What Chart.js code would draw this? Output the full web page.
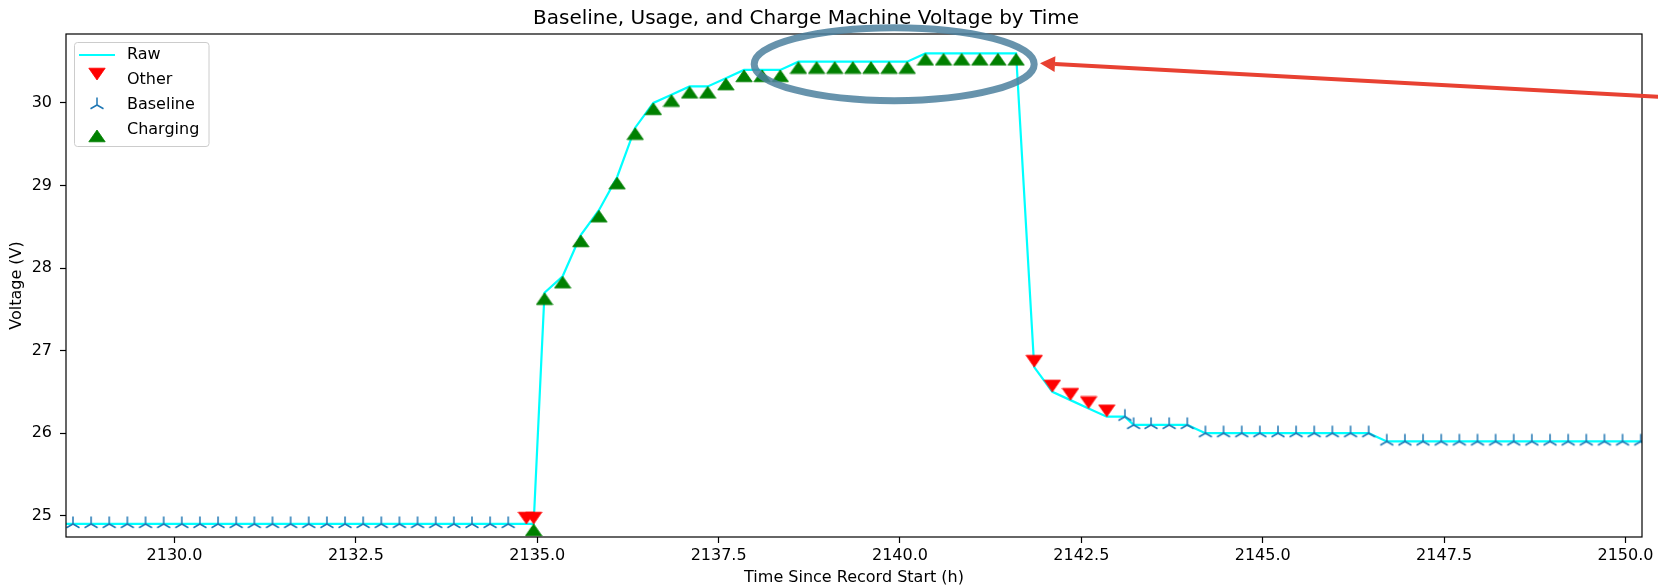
<!DOCTYPE html>
<html>
<head>
<meta charset="utf-8">
<title>Machine Voltage by Time</title>
<script src="https://cdn.jsdelivr.net/npm/chart.js@4.4.0/dist/chart.umd.min.js"></script>
<style>
  html, body { margin: 0; padding: 0; background: #fff; overflow: hidden; }
  #wrap { width: 1658px; height: 587px; position: relative; }
</style>
</head>
<body>
<div id="wrap"><canvas id="voltageChart"></canvas></div>
<script>
// --- values (time in h since record start, voltage in V) ---
const baselineTime = [
    2128.35, 2128.6, 2128.85, 2129.1, 2129.35, 2129.6, 2129.85, 2130.1, 2130.35, 2130.6,
    2130.85, 2131.1, 2131.35, 2131.6, 2131.85, 2132.1, 2132.35, 2132.6, 2132.85, 2133.1,
    2133.35, 2133.6, 2133.85, 2134.1, 2134.35, 2134.6,
    2143.1, 2143.22, 2143.46, 2143.71, 2143.96,
    2144.21, 2144.46, 2144.71, 2144.96, 2145.21, 2145.46, 2145.71, 2145.96, 2146.21, 2146.46,
    2146.71, 2146.96, 2147.21, 2147.46, 2147.71, 2147.96, 2148.21, 2148.46, 2148.71, 2148.96,
    2149.21, 2149.46, 2149.71, 2149.96, 2150.21, 2150.46
];
const baselineVolt = [
    24.9, 24.9, 24.9, 24.9, 24.9, 24.9, 24.9, 24.9, 24.9, 24.9,
    24.9, 24.9, 24.9, 24.9, 24.9, 24.9, 24.9, 24.9, 24.9, 24.9,
    24.9, 24.9, 24.9, 24.9, 24.9, 24.9,
    26.2, 26.1, 26.1, 26.1, 26.1,
    26.0, 26.0, 26.0, 26.0, 26.0, 26.0, 26.0, 26.0, 26.0, 26.0,
    25.9, 25.9, 25.9, 25.9, 25.9, 25.9, 25.9, 25.9, 25.9, 25.9,
    25.9, 25.9, 25.9, 25.9, 25.9, 25.9
];

const otherTime = [2134.85, 2134.95, 2141.85, 2142.1, 2142.35, 2142.6, 2142.85];
const otherVolt = [24.9, 24.9, 26.8, 26.5, 26.4, 26.3, 26.2];

const chargingTime = [
    2134.95, 2135.1, 2135.35, 2135.6, 2135.85, 2136.1, 2136.35, 2136.6, 2136.85, 2137.1,
    2137.35, 2137.6, 2137.85, 2138.1, 2138.35, 2138.6, 2138.85, 2139.1, 2139.35, 2139.6,
    2139.85, 2140.1, 2140.35, 2140.6, 2140.85, 2141.1, 2141.35, 2141.6
];
const chargingVolt = [
    24.9, 27.7, 27.9, 28.4, 28.7, 29.1, 29.7, 30.0, 30.1, 30.2,
    30.2, 30.3, 30.4, 30.4, 30.4, 30.5, 30.5, 30.5, 30.5, 30.5,
    30.5, 30.5, 30.6, 30.6, 30.6, 30.6, 30.6, 30.6
];

const xTicks = [2130, 2132.5, 2135, 2137.5, 2140, 2142.5, 2145, 2147.5, 2150];
const yTicks = [25, 26, 27, 28, 29, 30];

const FONT = 'DejaVu Sans';

function toPoints(times, volts) {
    return times.map((t, i) => ({ x: t, y: volts[i] }));
}

// raw trace runs through every sample, in time order
const rawPoints = [
    ...toPoints(baselineTime, baselineVolt),
    ...toPoints(otherTime, otherVolt),
    ...toPoints(chargingTime, chargingVolt)
].sort((a, b) => a.x - b.x)
 .filter((p, i, arr) => i === 0 || p.x !== arr[i - 1].x);

// --- marker images (triangles point at their sample, like the original) ---
function makeIcon(w, h, paint) {
    const c = document.createElement('canvas');
    c.width = w;
    c.height = h;
    paint(c.getContext('2d'));
    return c;
}

const rawIcon = makeIcon(36, 4, ctx => {
    ctx.strokeStyle = '#00ffff';
    ctx.lineWidth = 2.2;
    ctx.beginPath();
    ctx.moveTo(0, 2);
    ctx.lineTo(36, 2);
    ctx.stroke();
});

const downIcon = makeIcon(18, 26, ctx => {
    ctx.fillStyle = '#ff0000';
    ctx.strokeStyle = '#ff0000';
    ctx.lineWidth = 0.8;
    ctx.beginPath();
    ctx.moveTo(0.8, 1.2);
    ctx.lineTo(17.2, 1.2);
    ctx.lineTo(9, 13);
    ctx.closePath();
    ctx.fill();
    ctx.stroke();
});

const upIcon = makeIcon(18, 26, ctx => {
    ctx.fillStyle = '#008000';
    ctx.strokeStyle = '#008000';
    ctx.lineWidth = 0.8;
    ctx.beginPath();
    ctx.moveTo(9, 13);
    ctx.lineTo(17.2, 24.8);
    ctx.lineTo(0.8, 24.8);
    ctx.closePath();
    ctx.fill();
    ctx.stroke();
});

const triIcon = makeIcon(18, 18, ctx => {
    ctx.strokeStyle = '#1f77b4';
    ctx.lineWidth = 1.5;
    ctx.beginPath();
    ctx.moveTo(9, 9); ctx.lineTo(9, 1.5);
    ctx.moveTo(9, 9); ctx.lineTo(2.5, 12.75);
    ctx.moveTo(9, 9); ctx.lineTo(15.5, 12.75);
    ctx.stroke();
});

// --- extra drawing: title, frame, legend box, hand-drawn callout ---
const calloutCenter = { x: 2139.92, y: 30.47 };
const calloutTip = { x: 2141.93, y: 30.48 };

const decorPlugin = {
    id: 'decor',
    beforeDraw(chart) {
        const ctx = chart.ctx;
        ctx.save();
        ctx.fillStyle = 'rgba(255,255,255,0.8)';
        ctx.strokeStyle = '#cccccc';
        ctx.lineWidth = 1;
        ctx.beginPath();
        ctx.roundRect(74.5, 42.5, 134.5, 104, 3);
        ctx.fill();
        ctx.stroke();
        ctx.restore();
    },
    afterDraw(chart) {
        const { ctx, chartArea: a, scales } = chart;
        ctx.save();
        // axes box
        ctx.strokeStyle = '#000';
        ctx.lineWidth = 1.2;
        ctx.strokeRect(a.left, a.top, a.right - a.left, a.bottom - a.top);

        // title
        ctx.fillStyle = '#000';
        ctx.font = '20px "' + FONT + '"';
        ctx.textAlign = 'center';
        ctx.textBaseline = 'alphabetic';
        ctx.fillText('Baseline, Usage, and Charge Machine Voltage by Time', 806, 24);

        // ellipse round the plateau
        const cx = scales.x.getPixelForValue(calloutCenter.x);
        const cy = scales.y.getPixelForValue(calloutCenter.y);
        ctx.strokeStyle = 'rgba(76,128,158,0.85)';
        ctx.lineWidth = 7;
        ctx.beginPath();
        ctx.ellipse(cx, cy, 140, 36.5, 0, 0, Math.PI * 2);
        ctx.stroke();

        // red arrow from the right edge
        const tx = scales.x.getPixelForValue(calloutTip.x);
        const ty = scales.y.getPixelForValue(calloutTip.y);
        const sx = chart.width + 2, sy = ty + 33.5;
        const ang = Math.atan2(ty - sy, tx - sx);
        const headLen = 15, headHalf = 8;
        const bx = tx - Math.cos(ang) * headLen, by = ty - Math.sin(ang) * headLen;
        ctx.strokeStyle = '#e84132';
        ctx.fillStyle = '#e84132';
        ctx.lineWidth = 4;
        ctx.beginPath();
        ctx.moveTo(sx, sy);
        ctx.lineTo(bx, by);
        ctx.stroke();
        ctx.beginPath();
        ctx.moveTo(tx, ty);
        ctx.lineTo(bx - Math.sin(ang) * headHalf, by + Math.cos(ang) * headHalf);
        ctx.lineTo(bx + Math.sin(ang) * headHalf, by - Math.cos(ang) * headHalf);
        ctx.closePath();
        ctx.fill();
        ctx.restore();
    }
};

const markerDefaults = { showLine: false, pointRadius: 6, pointHoverRadius: 6, clip: 0, order: 0 };

new Chart(document.getElementById('voltageChart').getContext('2d'), {
    type: 'scatter',
    data: {
        datasets: [
            {
                label: 'Raw',
                data: rawPoints,
                showLine: true,
                borderColor: '#00ffff',
                backgroundColor: '#00ffff',
                borderWidth: 2.2,
                pointRadius: 0,
                pointStyle: rawIcon,
                tension: 0,
                clip: 0,
                order: 1
            },
            { ...markerDefaults, label: 'Other', data: toPoints(otherTime, otherVolt), pointStyle: downIcon, backgroundColor: '#ff0000', borderColor: '#ff0000' },
            { ...markerDefaults, label: 'Baseline', data: toPoints(baselineTime, baselineVolt), pointStyle: triIcon, backgroundColor: '#1f77b4', borderColor: '#1f77b4' },
            { ...markerDefaults, label: 'Charging', data: toPoints(chargingTime, chargingVolt), pointStyle: upIcon, backgroundColor: '#008000', borderColor: '#008000' }
        ]
    },
    options: {
        responsive: true,
        maintainAspectRatio: false,
        animation: false,
        events: [],
        layout: { padding: { top: 34, right: 16, left: 0, bottom: 0 } },
        plugins: {
            title: { display: false },
            tooltip: { enabled: false },
            legend: {
                position: 'chartArea',
                align: 'start',
                // empty title only pushes the rows down into the axes box
                title: { display: true, text: '', font: { size: 2, lineHeight: 1 }, padding: { top: 35, bottom: 1 } },
                labels: {
                    usePointStyle: true,
                    pointStyleWidth: 44,
                    padding: 9,
                    color: '#000',
                    font: { family: FONT, size: 16 },
                    sort: (a, b) => a.datasetIndex - b.datasetIndex
                }
            }
        },
        scales: {
            x: {
                type: 'linear',
                min: 2128.504,
                max: 2150.228,
                bounds: 'data',
                afterBuildTicks: s => { s.ticks = xTicks.map(v => ({ value: v })); },
                afterFit: s => { s.height = 50; },
                border: { display: false },
                grid: { display: true, drawOnChartArea: false, drawTicks: true, tickLength: 6, tickWidth: 1.2, tickColor: '#000' },
                ticks: {
                    autoSkip: false,
                    maxRotation: 0,
                    padding: 3,
                    color: '#000',
                    font: { family: FONT, size: 16 },
                    callback: v => Number(v).toFixed(1)
                },
                title: {
                    display: true,
                    text: 'Time Since Record Start (h)',
                    color: '#000',
                    font: { family: FONT, size: 16 },
                    padding: { top: 0, bottom: 0 }
                }
            },
            y: {
                type: 'linear',
                min: 24.742,
                max: 30.835,
                bounds: 'data',
                afterBuildTicks: s => { s.ticks = yTicks.map(v => ({ value: v })); },
                afterFit: s => { s.width = 66; },
                border: { display: false },
                grid: { display: true, drawOnChartArea: false, drawTicks: true, tickLength: 6, tickWidth: 1.2, tickColor: '#000' },
                ticks: {
                    autoSkip: false,
                    padding: 8,
                    color: '#000',
                    font: { family: FONT, size: 16 },
                    callback: v => Number(v).toFixed(0)
                },
                title: {
                    display: true,
                    text: 'Voltage (V)',
                    color: '#000',
                    font: { family: FONT, size: 16 },
                    padding: { top: 7, bottom: 0 }
                }
            }
        }
    },
    plugins: [decorPlugin]
});
</script>
</body>
</html>
